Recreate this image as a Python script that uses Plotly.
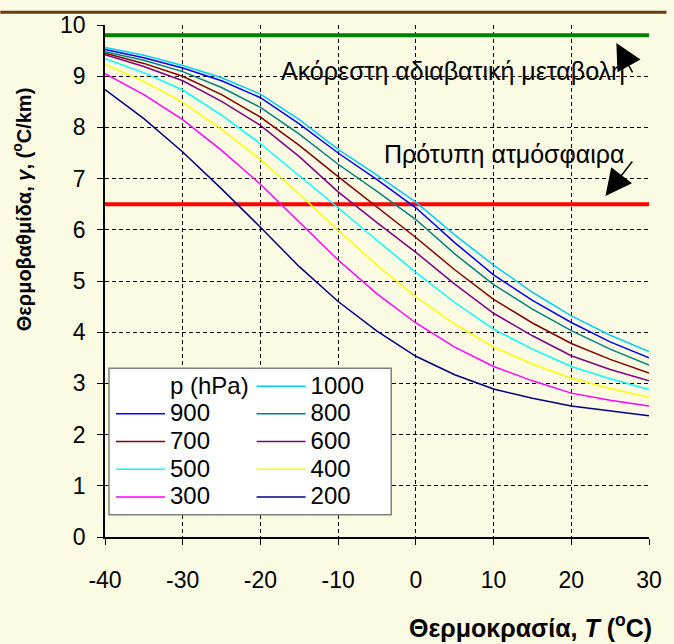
import plotly.graph_objects as go

# ---------------- data ----------------
temps = [-40, -35, -30, -25, -20, -15, -10, -5, 0, 5, 10, 15, 20, 25, 30]

g1000 = [9.56, 9.41, 9.21, 8.97, 8.65, 8.15, 7.57, 7.07, 6.54, 5.90, 5.31, 4.78, 4.32, 3.94, 3.62]
g900 = [9.52, 9.36, 9.16, 8.91, 8.58, 8.07, 7.50, 6.98, 6.43, 5.75, 5.12, 4.62, 4.19, 3.81, 3.50]
g800 = [9.48, 9.31, 9.09, 8.78, 8.39, 7.87, 7.28, 6.75, 6.20, 5.53, 4.93, 4.45, 4.03, 3.67, 3.36]
g700 = [9.45, 9.25, 9.00, 8.64, 8.20, 7.65, 7.04, 6.44, 5.85, 5.22, 4.64, 4.18, 3.78, 3.47, 3.20]
g600 = [9.42, 9.19, 8.91, 8.51, 8.04, 7.43, 6.74, 6.14, 5.56, 4.94, 4.37, 3.93, 3.54, 3.27, 3.05]
g500 = [9.34, 9.07, 8.73, 8.24, 7.68, 7.06, 6.43, 5.79, 5.17, 4.58, 4.06, 3.67, 3.33, 3.09, 2.88]
g400 = [9.23, 8.90, 8.49, 7.96, 7.37, 6.70, 5.99, 5.31, 4.69, 4.16, 3.71, 3.38, 3.10, 2.90, 2.73]
g300 = [9.05, 8.64, 8.15, 7.55, 6.89, 6.14, 5.41, 4.75, 4.18, 3.71, 3.33, 3.05, 2.81, 2.67, 2.56]
g200 = [8.74, 8.17, 7.52, 6.80, 6.05, 5.28, 4.60, 4.02, 3.53, 3.17, 2.89, 2.71, 2.56, 2.46, 2.37]

dry_adiabatic = 9.8       # Ακόρεστη αδιαβατική μεταβολή
standard_atm = 6.5        # Πρότυπη ατμόσφαιρα

x_ticks = [-40, -30, -20, -10, 0, 10, 20, 30]
x_tick_labels = ["-40", "-30", "-20", "-10", "0", "10", "20", "30"]
y_ticks = [0, 1, 2, 3, 4, 5, 6, 7, 8, 9, 10]

legend1_series = [("900", g900, "#0000FF"), ("700", g700, "#800000"),
                  ("500", g500, "#00FFFF"), ("300", g300, "#FF00FF")]
legend2_series = [("1000", g1000, "#00CCFF"), ("800", g800, "#008080"),
                  ("600", g600, "#800080"), ("400", g400, "#FFFF00"),
                  ("200", g200, "#000080")]

# ---------------- figure ----------------
FONT = "Liberation Sans, Arial, sans-serif"
BG = "#FBFAE3"
LEG_TXT = "<span style='font-size:24px'>{}</span>"

fig = go.Figure()

fig.add_trace(go.Scatter(x=[temps[0], temps[-1]], y=[dry_adiabatic, dry_adiabatic],
                         mode="lines", line=dict(color="#008000", width=4),
                         showlegend=False, hoverinfo="skip"))
fig.add_trace(go.Scatter(x=[temps[0], temps[-1]], y=[standard_atm, standard_atm],
                         mode="lines", line=dict(color="#FF0000", width=4),
                         showlegend=False, hoverinfo="skip"))

# legend header
fig.add_trace(go.Scatter(x=[None], y=[None], mode="lines", name=LEG_TXT.format("p (hPa)"),
                         line=dict(color="rgba(0,0,0,0)", width=1), legend="legend"))
for name, vals, col in legend1_series:
    fig.add_trace(go.Scatter(x=temps, y=vals, mode="lines", name=LEG_TXT.format(name),
                             line=dict(color=col, width=1.5), legend="legend"))
for name, vals, col in legend2_series:
    fig.add_trace(go.Scatter(x=temps, y=vals, mode="lines", name=LEG_TXT.format(name),
                             line=dict(color=col, width=1.5), legend="legend2"))

L, R, T, B = 105, 23.5, 20, 106.5
W, H = 674, 644
pw, ph = W - L - R, H - T - B


def px_x(p):
    return (p - L) / pw


def px_y(p):
    return (H - B - p) / ph


axis_common = dict(showgrid=True, gridcolor="#000000", griddash="4px,3px", gridwidth=1,
                   showline=True, linecolor="#000000", linewidth=1.5,
                   ticks="outside", ticklen=6, tickcolor="#000000", tickwidth=1,
                   tickfont=dict(family=FONT, size=23, color="#000000"),
                   zeroline=False)

fig.update_layout(
    width=W, height=H,
    margin=dict(l=L, r=R, t=T, b=B),
    paper_bgcolor=BG, plot_bgcolor=BG,
    font=dict(family=FONT, color="#000000"),
    xaxis=dict(range=[-40, 30], tickvals=x_ticks, ticktext=x_tick_labels,
               ticklabelstandoff=16, **axis_common),
    yaxis=dict(range=[0, 10], tickvals=y_ticks, ticklabelstandoff=7, **axis_common),
    legend=dict(x=px_x(111), y=px_y(366), xanchor="left", yanchor="top",
                bgcolor="rgba(0,0,0,0)", borderwidth=0,
                font=dict(family=FONT, size=19), itemwidth=49,
                tracegroupgap=0),
    legend2=dict(x=px_x(252), y=px_y(366), xanchor="left", yanchor="top",
                 bgcolor="rgba(0,0,0,0)", borderwidth=0,
                 font=dict(family=FONT, size=19), itemwidth=49,
                 tracegroupgap=0),
    shapes=[
        dict(type="line", xref="paper", yref="paper", x0=px_x(0), x1=px_x(668),
             y0=px_y(7), y1=px_y(7), line=dict(color="#6B3A10", width=3)),
        dict(type="rect", xref="paper", yref="paper", x0=px_x(109), x1=px_x(392),
             y0=px_y(515), y1=px_y(367), fillcolor="#FFFFFF",
             line=dict(color="#808080", width=1.5), layer="above"),
    ],
    annotations=[
        dict(text="Ακόρεστη αδιαβατική μεταβολή", x=4.8, y=9.1, xref="x", yref="y",
             showarrow=False, font=dict(family=FONT, size=25)),
        dict(text="Πρότυπη ατμόσφαιρα", x=11.4, y=7.48, xref="x", yref="y",
             showarrow=False, font=dict(family=FONT, size=25)),
        dict(text="", x=25.8, y=9.65, xref="x", yref="y", showarrow=True,
             ax=17, ay=31, arrowhead=2, arrowsize=3.5, arrowwidth=1.5, arrowcolor="#000000"),
        dict(text="", x=24.4, y=6.66, xref="x", yref="y", showarrow=True,
             ax=28, ay=-36, arrowhead=2, arrowsize=3.5, arrowwidth=1.5, arrowcolor="#000000"),
        dict(text="<b>Θερμοκρασία, <i>T</i> (<sup>o</sup>C)</b>", xref="paper", yref="paper",
             x=px_x(656), y=px_y(627), xanchor="right", yanchor="middle", showarrow=False,
             font=dict(family=FONT, size=25)),
        dict(text="<b>Θερμοβαθμίδα, <i>γ</i>, (<sup>o</sup>C/km)</b>", xref="paper", yref="paper",
             x=px_x(21), y=px_y(206), xanchor="center", yanchor="middle", showarrow=False,
             textangle=-90, font=dict(family=FONT, size=20)),
    ],
)

fig.write_html("out.html", config={"displayModeBar": False},
               post_script="document.body.style.margin='0';document.body.style.background='" + BG + "';")
